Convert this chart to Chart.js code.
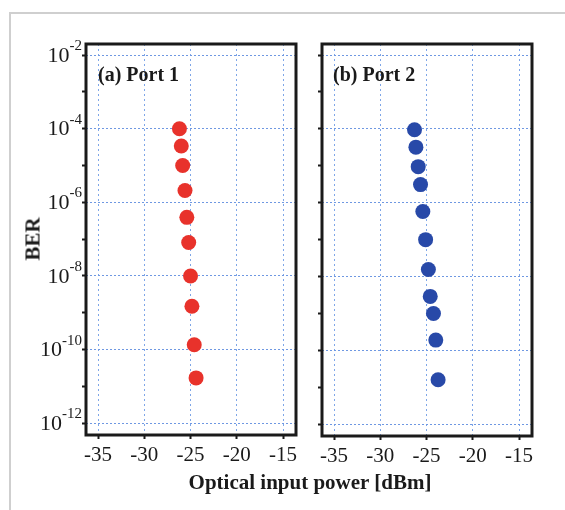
<!DOCTYPE html>
<html>
<head>
<meta charset="utf-8">
<script src="https://cdn.jsdelivr.net/npm/chart.js@4/dist/chart.umd.min.js"></script>
<style>
  body { margin: 0; background: #fff; }
  #wrap { position: relative; width: 565px; height: 510px; overflow: hidden; background: #fff; }
  #wrap canvas { position: absolute; left: 0; top: 0; }
  .edge { position: absolute; left: 9px; top: 12px; right: -5px; bottom: -5px; border-left: 2px solid #cfcfcf; border-top: 2px solid #cfcfcf; }
  .txt { position: absolute; font-family: "Liberation Serif", serif; font-weight: bold; color: #1a1a1a; white-space: nowrap; }
  #ytitle { left: 33px; top: 239px; font-size: 21px; transform: translate(-50%, -50%) rotate(-90deg); }
  #xtitle { left: 310px; top: 482px; font-size: 21px; transform: translate(-50%, -50%); }
  .panel { font-size: 20px; top: 63px; }
</style>
</head>
<body>
<div id="wrap">
  <div class="edge"></div>
  <canvas id="left" width="565" height="510"></canvas>
  <canvas id="right" width="565" height="510"></canvas>
  <div class="txt" id="ytitle">BER</div>
  <div class="txt" id="xtitle">Optical input power [dBm]</div>
  <div class="txt panel" style="left:98px">(a) Port 1</div>
  <div class="txt panel" style="left:333px">(b) Port 2</div>
</div>
<script>
// values
var port1Power = [-26.2, -26.0, -25.85, -25.6, -25.4, -25.2, -25.0, -24.85, -24.6, -24.4];
var port1Ber = [1e-4, 3.4e-5, 1e-5, 2.1e-6, 3.9e-7, 8.1e-8, 1e-8, 1.5e-9, 1.35e-10, 1.7e-11];
var port2Power = [-26.3, -26.15, -25.9, -25.65, -25.4, -25.1, -24.8, -24.6, -24.25, -24.0, -23.75];
var port2Ber = [9.5e-5, 3.2e-5, 9.5e-6, 3.1e-6, 5.8e-7, 1e-7, 1.55e-8, 2.9e-9, 1e-9, 1.9e-10, 1.6e-11];

var xTicks = [-35, -30, -25, -20, -15];
var yExponents = [-12, -11, -10, -9, -8, -7, -6, -5, -4, -3, -2];
var xMin = -36.3, xMax = -13.6;
var yMin = Math.pow(10, -12.32), yMax = Math.pow(10, -1.70);

var serif = '"Liberation Serif", serif';
var gridBlue = '#7ea6e8';

var toPoints = function(xs, ys) {
    var pts = [];
    for (var i = 0; i < xs.length; i++) pts.push({x: xs[i], y: ys[i]});
    return pts;
};

var isEven = function(v) {
    return Math.round(Math.log10(v)) % 2 === 0;
};

// thick black box round the plot area
var framePlugin = {
    id: 'frame',
    afterDraw: function(chart) {
        var a = chart.chartArea, ctx = chart.ctx;
        ctx.save();
        ctx.strokeStyle = '#1a1a1a';
        ctx.lineWidth = 3;
        ctx.strokeRect(a.left, a.top, a.right - a.left, a.bottom - a.top);
        ctx.restore();
    }
};

// 10^n labels with a raised exponent
var powerLabels = {
    id: 'powerLabels',
    afterDraw: function(chart) {
        if (!chart.options.plugins.powerLabels.show) return;
        var ctx = chart.ctx, y = chart.scales.y;
        ctx.save();
        ctx.fillStyle = '#1a1a1a';
        ctx.textBaseline = 'middle';
        yExponents.forEach(function(e) {
            if (e % 2 !== 0) return;
            var py = y.getPixelForValue(Math.pow(10, e));
            var exp = String(e);
            ctx.font = '15px ' + serif;
            var ew = ctx.measureText(exp).width;
            ctx.textAlign = 'right';
            ctx.fillText(exp, 82, py - 9);
            ctx.font = '22px ' + serif;
            ctx.fillText('10', 82 - ew, py + 1);
        });
        ctx.restore();
    }
};

var makeChart = function(id, pts, colour, pad, yWidth, xHeight, showLabels) {
    return new Chart(document.getElementById(id), {
        type: 'scatter',
        data: {
            datasets: [{
                data: pts,
                backgroundColor: colour,
                borderWidth: 0,
                pointRadius: 7.5,
                pointHoverRadius: 7.5
            }]
        },
        options: {
            responsive: false,
            animation: false,
            events: [],
            layout: { padding: pad },
            plugins: { legend: { display: false }, tooltip: { enabled: false }, powerLabels: { show: showLabels } },
            scales: {
                x: {
                    type: 'linear',
                    min: xMin,
                    max: xMax,
                    afterBuildTicks: function(s) { s.ticks = xTicks.map(function(v) { return {value: v}; }); },
                    afterFit: function(s) { s.height = xHeight; },
                    ticks: {
                        includeBounds: false,
                        color: '#1a1a1a',
                        font: { family: serif, size: 21 },
                        padding: 4,
                        maxRotation: 0
                    },
                    grid: { color: gridBlue, lineWidth: 1, drawTicks: true, tickLength: 4, tickColor: '#1a1a1a', tickWidth: 2 },
                    border: { display: false, dash: [2, 3] }
                },
                y: {
                    type: 'logarithmic',
                    min: yMin,
                    max: yMax,
                    afterBuildTicks: function(s) { s.ticks = yExponents.map(function(e) { return {value: Math.pow(10, e)}; }); },
                    afterFit: function(s) { s.width = yWidth; },
                    ticks: { display: false },
                    grid: {
                        color: function(c) { return c.tick && isEven(c.tick.value) ? '#6f98e2' : 'rgba(0,0,0,0)'; },
                        lineWidth: 1,
                        drawTicks: true,
                        tickLength: 4,
                        tickColor: '#1a1a1a',
                        tickWidth: 2
                    },
                    border: { display: false, dash: [2, 2] }
                }
            }
        },
        plugins: [framePlugin, powerLabels]
    });
};

makeChart('left', toPoints(port1Power, port1Ber), '#e8322b',
    { left: 0, top: 44, right: 565 - 296, bottom: 0 }, 86, 75, true);
makeChart('right', toPoints(port2Power, port2Ber), '#2849a8',
    { left: 312, top: 44, right: 565 - 532, bottom: 0 }, 10, 74, false);
</script>
</body>
</html>
